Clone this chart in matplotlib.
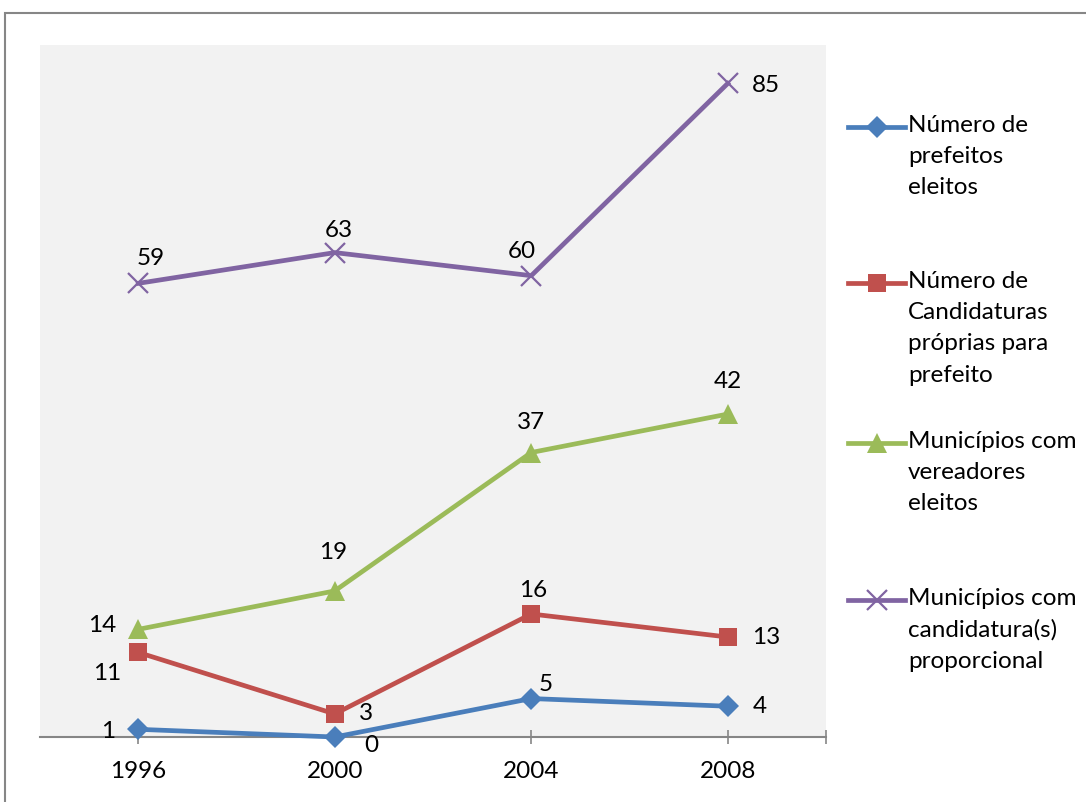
import matplotlib
matplotlib.use("Agg")
import matplotlib.pyplot as plt
from matplotlib.lines import Line2D
from matplotlib.patches import Rectangle

plt.rcParams['font.family'] = ['Lato', 'DejaVu Sans']

anos = ['1996', '2000', '2004', '2008']
prefeitos_eleitos = [1, 0, 5, 4]
candidaturas_proprias = [11, 3, 16, 13]
municipios_vereadores = [14, 19, 37, 42]
municipios_proporcional = [59, 63, 60, 85]

series_nomes = [
    'Número de\nprefeitos\neleitos',
    'Número de\nCandidaturas\npróprias para\nprefeito',
    'Municípios com\nvereadores\neleitos',
    'Municípios com\ncandidatura(s)\nproporcional',
]

cores = ['#4A7EBB', '#C0504D', '#9BBB59', '#8064A2']
marcadores = ['D', 's', '^', 'x']
tam_marc = [11.5, 13, 14.5, 14]
# deslocamento dos rótulos (pixels) para cada ponto
desloc = [
    [(-30, -2), (37, -8), (14, 14), (32, 0)],
    [(-31, -21), (31, 0), (2, 23), (38, 0)],
    [(-36, 4), (-2, 38), (0, 30), (0, 33)],
    [(12, 25), (4, 22), (-9, 24), (38, -2)],
]

W, H = 1086, 802
fig = plt.figure(figsize=(W / 100, H / 100), dpi=100)
fig.patch.set_facecolor('white')
fig.add_artist(Rectangle((5 / W, -0.1), 1.2, 1 - 13 / H + 0.1,
                         transform=fig.transFigure, fill=False,
                         edgecolor='#868686', linewidth=1.5))

ax = fig.add_axes([40 / W, (H - 737) / H, (826 - 40) / W, (737 - 45) / H])
ax.set_facecolor('#F2F2F2')

x = list(range(len(anos)))
dados = [prefeitos_eleitos, candidaturas_proprias,
         municipios_vereadores, municipios_proporcional]

for i, valores in enumerate(dados):
    mew = 1.6 if marcadores[i] == 'x' else 0
    ax.plot(x, valores, color=cores[i], linewidth=3.4, marker=marcadores[i],
            markersize=tam_marc[i], markeredgewidth=mew,
            markeredgecolor=cores[i], clip_on=False, zorder=3 + i * 0.1)
    for j, v in enumerate(valores):
        ax.annotate(str(v), (j, v), xytext=desloc[i][j],
                    textcoords='offset pixels', ha='center', va='center',
                    fontsize=17.5, color='black', zorder=5)

ax.set_xlim(-0.5, 3.5)
ax.set_ylim(0, 90)
for s in ['top', 'right', 'left']:
    ax.spines[s].set_visible(False)
ax.spines['bottom'].set_color('#868686')
ax.spines['bottom'].set_linewidth(1.5)
ax.set_yticks([])
ax.set_xticks(x + [3.5])
ax.set_xticklabels(anos + [''])
ax.tick_params(axis='x', direction='inout', length=10, width=1.2,
               color='#868686', labelsize=17.5, pad=12)

# legenda
leg_y = [127, 283, 443, 600]
for i, nome in enumerate(series_nomes):
    y = (H - leg_y[i]) / H
    mew = 1.6 if marcadores[i] == 'x' else 0
    fig.add_artist(Line2D([848 / W, 905 / W], [y, y], transform=fig.transFigure,
                          color=cores[i], linewidth=3.4))
    fig.add_artist(Line2D([876.5 / W], [y], transform=fig.transFigure,
                          color=cores[i], marker=marcadores[i],
                          markersize=tam_marc[i], markeredgewidth=mew,
                          markeredgecolor=cores[i], linestyle='none'))
    fig.text(908 / W, (H - leg_y[i] + 12) / H, nome, ha='left', va='top',
             fontsize=17.5, linespacing=1.6)

fig.savefig('out.png', dpi=100)
